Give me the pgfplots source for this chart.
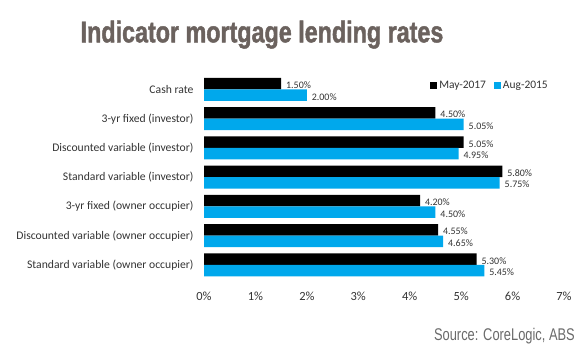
\documentclass[border=0pt]{standalone}
\usepackage{pgfplots}
\pgfplotsset{compat=1.18}
\pgfkeys{/pgf/number format/assume math mode=true}
\usepackage{fontspec}
\setmainfont{Carlito}
\newfontfamily\titlefont[FakeStretch=0.78,FakeBold=1.5]{Liberation Sans Bold}
\newfontfamily\narrowfont[FakeStretch=0.76]{Liberation Sans}
\definecolor{bblue}{HTML}{00A8EC}
\definecolor{titlegray}{HTML}{6B625E}
\definecolor{txt}{HTML}{333333}
\definecolor{srcgray}{HTML}{6A6A6A}
\begin{document}
\begin{tikzpicture}[x=1bp,y=1bp]
\path (0,0) rectangle (580,352);
\node[anchor=base, text=titlegray, inner sep=0, font=\titlefont\fontsize{30}{30}\selectfont] at (262,309.7) {Indicator mortgage lending rates};
\node[anchor=base east, text=srcgray, inner sep=0, font=\narrowfont\fontsize{17}{17}\selectfont] at (575,12) {Source: CoreLogic, ABS};
\begin{axis}[
  at={(204bp,72.4bp)}, anchor=south west,
  scale only axis, width=360bp, height=204.75bp,
  xmin=0, xmax=7, ymin=-0.5, ymax=6.5,
  xbar, bar width=11.5bp,
  axis line style={draw=none},
  major tick length=0pt,
  /pgf/number format/assume math mode=true,
  xtick={0,1,2,3,4,5,6,7},
  xticklabel={\pgfmathprintnumber{\tick}\%},
  xticklabel style={font=\fontsize{12.5}{12.5}\selectfont, text=txt, yshift=-9bp},
  ytick={0,1,2,3,4,5,6},
  yticklabels={Standard variable (owner occupier), Discounted variable (owner occupier), 3-yr fixed (owner occupier), Standard variable (investor), Discounted variable (investor), 3-yr fixed (investor), Cash rate},
  yticklabel style={font=\fontsize{11.7}{11.7}\selectfont, text=txt, xshift=-7bp},
  nodes near coords={\pgfmathprintnumber[fixed,fixed zerofill,precision=2,assume math mode=true]{\pgfplotspointmeta}\%},
  nodes near coords style={anchor=west, font=\fontsize{10}{10}\selectfont, text=txt, xshift=1.5bp, yshift=-1.5bp},
  legend columns=2,
  legend style={draw=none, fill=none, inner sep=0pt, at={(rel axis cs:0.961,0.946)}, anchor=east, font=\fontsize{11.5}{11.5}\selectfont, text=txt,
    /tikz/every even column/.append style={column sep=6bp}},
  legend image code/.code={\fill[#1] (0bp,-3.5bp) rectangle (7bp,3.5bp);},
]
\addplot[fill=black, draw=none, bar shift=5.75bp] coordinates {(5.30,0) (4.55,1) (4.20,2) (5.80,3) (5.05,4) (4.50,5) (1.50,6)};
\addlegendentry{May-2017}
\addplot[fill=bblue, draw=none, bar shift=-5.75bp] coordinates {(5.45,0) (4.65,1) (4.50,2) (5.75,3) (4.95,4) (5.05,5) (2.00,6)};
\addlegendentry{Aug-2015}
\end{axis}
\end{tikzpicture}
\end{document}
